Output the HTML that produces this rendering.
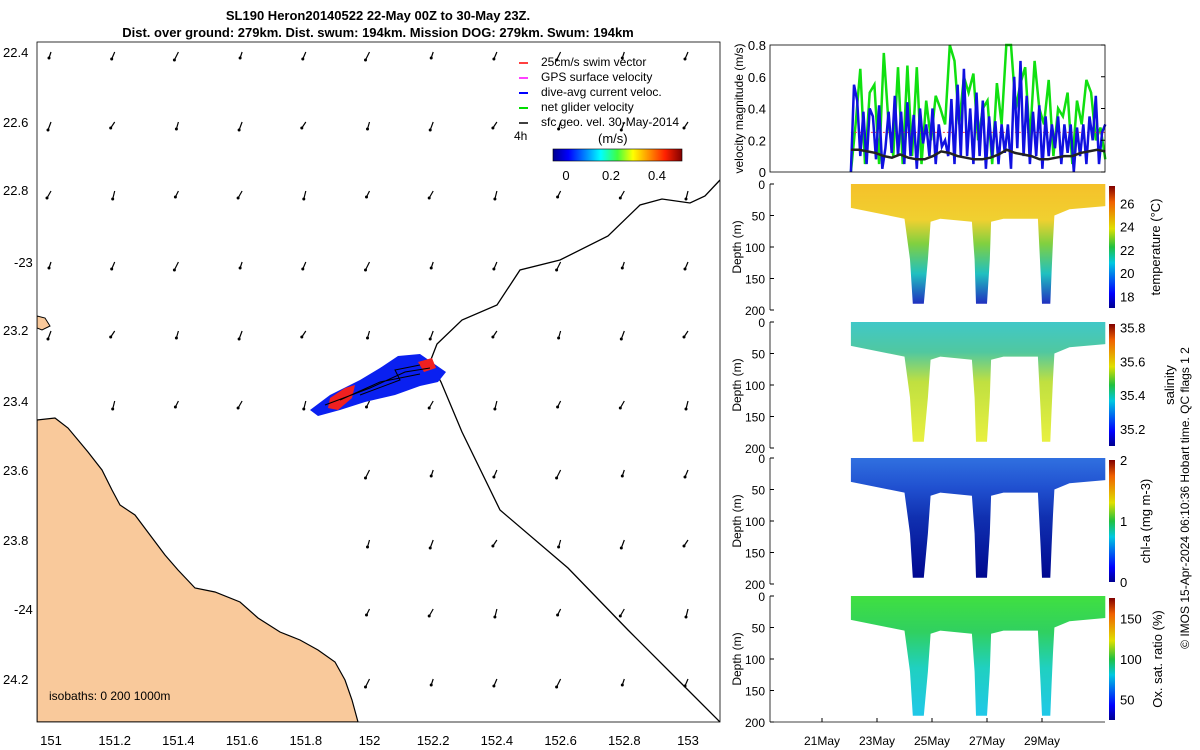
<!DOCTYPE html>
<html><head><meta charset="utf-8"><style>
body{margin:0;background:#fff}
svg{display:block;font-family:"Liberation Sans",sans-serif}
</style></head><body>
<svg id="s" width="1200" height="750" xmlns="http://www.w3.org/2000/svg">
<defs>
<linearGradient id="jet" x1="0" x2="1" y1="0" y2="0">
<stop offset="0" stop-color="#00008f"/><stop offset="0.12" stop-color="#0000ff"/><stop offset="0.37" stop-color="#00ffff"/><stop offset="0.5" stop-color="#40ff40"/><stop offset="0.62" stop-color="#ffff00"/><stop offset="0.87" stop-color="#ff2000"/><stop offset="1" stop-color="#800000"/></linearGradient>
<linearGradient id="jetv" x1="0" x2="0" y1="1" y2="0">
<stop offset="0" stop-color="#00008f"/><stop offset="0.12" stop-color="#0000ff"/><stop offset="0.37" stop-color="#00c8e0"/><stop offset="0.5" stop-color="#20c040"/><stop offset="0.65" stop-color="#e0e000"/><stop offset="0.87" stop-color="#f06000"/><stop offset="1" stop-color="#800000"/></linearGradient>
<linearGradient id="gT" x1="0" x2="0" y1="0" y2="1"><stop offset="0" stop-color="#f5c12a"/><stop offset="0.3" stop-color="#f0d030"/><stop offset="0.5" stop-color="#80d040"/><stop offset="0.75" stop-color="#20c0c0"/><stop offset="1" stop-color="#2030c0"/></linearGradient>
<linearGradient id="gS" x1="0" x2="0" y1="0" y2="1"><stop offset="0" stop-color="#40c8c8"/><stop offset="0.25" stop-color="#50c8a0"/><stop offset="0.5" stop-color="#c0e040"/><stop offset="1" stop-color="#e8f040"/></linearGradient>
<linearGradient id="gC" x1="0" x2="0" y1="0" y2="1"><stop offset="0" stop-color="#3070e0"/><stop offset="0.25" stop-color="#2050d0"/><stop offset="0.5" stop-color="#1030b0"/><stop offset="1" stop-color="#000890"/></linearGradient>
<linearGradient id="gO" x1="0" x2="0" y1="0" y2="1"><stop offset="0" stop-color="#40e040"/><stop offset="0.3" stop-color="#30d060"/><stop offset="0.6" stop-color="#20d0c0"/><stop offset="1" stop-color="#20c8e8"/></linearGradient>
<clipPath id="mapclip"><rect x="37" y="42" width="683" height="680"/></clipPath>
</defs>

<text x="378" y="20" text-anchor="middle" font-size="13" font-weight="bold">SL190 Heron20140522 22-May 00Z to 30-May 23Z.</text>
<text x="378" y="37" text-anchor="middle" font-size="13" font-weight="bold">Dist. over ground: 279km. Dist. swum: 194km. Mission DOG: 279km. Swum: 194km</text>

<g id="map">
<g clip-path="url(#mapclip)">
<path fill="#f9c99b" stroke="#000" stroke-width="1.2" d="M37,420 L55,418 L68,428 L78,440 L88,452 L102,470 L112,490 L120,505 L135,515 L150,535 L165,555 L178,570 L195,588 L215,592 L240,602 L258,618 L280,632 L300,640 L318,650 L335,662 L345,680 L352,700 L358,722 L37,722 Z"/>
<path fill="#f9c99b" stroke="#000" stroke-width="1" d="M37,316 L45,318 L50,326 L42,330 L37,328 Z"/>
<path fill="none" stroke="#000" stroke-width="1.3" d="M720,180 L705,196 L690,203 L662,199 L640,205 L608,236 L560,260 L520,270 L497,305 L462,320 L437,344 L430,362 L441,382 L462,432 L500,510 L568,568 L628,630 L680,682 L720,722"/>
<path fill="#0a20f0" d="M310,410 L330,395 L360,380 L380,368 L398,356 L420,354 L446,372 L438,382 L420,386 L395,395 L365,402 L340,410 L318,416 Z"/>
<path fill="#f02020" d="M330,398 L345,388 L355,385 L352,398 L338,410 L328,408 Z M418,362 L432,358 L436,368 L424,372 Z"/>
<path fill="none" stroke="#000" stroke-width="1" d="M325,405 L370,388 L405,372 L430,368 M340,400 L380,382 L420,374 M360,395 L400,380 L395,370 L420,365"/>
<g id="arrows"></g>
</g>
<rect x="37" y="42" width="683" height="680" fill="none" stroke="#000" stroke-width="0.8"/>
<g font-size="13">
<text x="3" y="57">22.4</text><text x="3" y="127">22.6</text><text x="3" y="195">22.8</text><text x="14" y="267">-23</text><text x="3" y="335">23.2</text><text x="3" y="406">23.4</text><text x="3" y="475">23.6</text><text x="3" y="545">23.8</text><text x="14" y="614">-24</text><text x="3" y="684">24.2</text>
</g>
<text x="49" y="700" font-size="12">isobaths: 0   200  1000m</text>
<g font-size="12">
<line x1="519" y1="63" x2="528" y2="63" stroke="#f00" stroke-width="1.5"/><text x="541" y="66">25cm/s swim vector</text>
<line x1="519" y1="78" x2="528" y2="78" stroke="#f0f" stroke-width="1.5"/><text x="541" y="81">GPS surface velocity</text>
<line x1="519" y1="93" x2="528" y2="93" stroke="#00f" stroke-width="2"/><text x="541" y="96">dive-avg current veloc.</text>
<line x1="519" y1="108" x2="528" y2="108" stroke="#0d0" stroke-width="2"/><text x="541" y="111">net glider velocity</text>
<line x1="519" y1="123" x2="528" y2="123" stroke="#000" stroke-width="1.5"/><text x="541" y="126">sfc geo. vel. 30-May-2014</text>
<text x="514" y="140">4h</text>
<text x="598" y="143" font-size="13">(m/s)</text>
</g>
<rect x="553" y="149" width="129" height="12" fill="url(#jet)" stroke="#000" stroke-width="0.6"/>
<g font-size="13" text-anchor="middle"><text x="566" y="180">0</text><text x="611" y="180">0.2</text><text x="657" y="180">0.4</text></g>
</g>

<g id="right"></g>
<text transform="translate(1189,498) rotate(-90)" text-anchor="middle" font-size="12">© IMOS 15-Apr-2024 06:10:36 Hobart time. QC flags 1  2</text>
</svg>
<script>
const NS="http://www.w3.org/2000/svg";
function mk(tag,attrs,parent){const e=document.createElementNS(NS,tag);for(const k in attrs)e.setAttribute(k,attrs[k]);parent.appendChild(e);return e;}
const mapXTickLabels=["151","151.2","151.4","151.6","151.8","152","152.2","152.4","152.6","152.8","153"];
const mapXTickLon=[151,151.2,151.4,151.6,151.8,152,152.2,152.4,152.6,152.8,153];
const lonX=l=>51+(l-151)*318.5;
const svg=document.getElementById('s');
const mxt=mk('g',{'font-size':13,'text-anchor':'middle'},svg);


mapXTickLon.forEach((l,i)=>{const t=mk('text',{x:lonX(l),y:745},mxt);t.textContent=mapXTickLabels[i];});

const arrowLon=[151,151.2,151.4,151.6,151.8,152,152.2,152.4,152.6,152.8,153];
const arrowRows=[52,122,191,262,331,401,470,540,609,679];
const ag=document.getElementById('arrows');
arrowRows.forEach((y,r)=>arrowLon.forEach((l,c)=>{
  const x=lonX(l);
  if(x<360&&y>420)return; if(x<100&&y>380)return;
  const dx=-2-((r+c)%3), dy=6+((r*2+c)%3);
  const g=mk('g',{},ag);
  
  
  mk('line',{x1:x,y1:y,x2:x+dx,y2:y+dy,stroke:'#000','stroke-width':1.2},g);
  mk('circle',{cx:x+dx,cy:y+dy,r:1.5,fill:'#000'},g);
}));

const R=document.getElementById('right');
const PX0=770,PX1=1105;
const dayX=d=>822+d*27.5;
const dateTickLabels=["21May","23May","25May","27May","29May"];
const dateTickDays=[0,2,4,6,8];

const velStartDay=1.05, velEndDay=10.3;
const blueVel=[0,0.55,0.45,0.1,0.38,0.05,0.4,0.35,0.08,0.42,0.02,0.15,0.38,0.12,0.48,0.1,0.38,0.05,0.44,0.1,0.36,0.02,0.4,0.18,0.3,0.1,0.4,0.05,0.3,0.16,0.2,0.1,0.46,0.05,0.55,0.1,0.65,0.1,0.4,0.05,0.5,0.1,0.45,0.02,0.35,0.1,0.32,0.05,0.3,0.12,0.3,0.02,0.6,0.15,0.7,0.1,0.48,0.05,0.38,0.1,0.42,0.02,0.35,0.1,0.3,0.15,0.35,0.05,0.3,0.12,0.3,0.0,0.28,0.1,0.3,0.05,0.35,0.2,0.48,0.05,0.25,0.3];
const greenVel=[0,0.3,0.65,0.05,0.5,0.55,0.05,0.75,0.3,0.1,0.66,0.05,0.67,0.1,0.66,0.05,0.45,0.2,0.48,0.4,0.3,0.8,0.7,0.3,0.6,0.5,0.62,0.2,0.4,0.45,0.05,0.56,0.3,0.8,0.8,0.4,0.56,0.66,0.2,0.7,0.4,0.3,0.58,0.1,0.4,0.35,0.5,0.05,0.45,0.3,0.58,0.5,0.2,0.28,0.08];
const blackVel=[0.14,0.14,0.13,0.12,0.1,0.09,0.11,0.09,0.08,0.08,0.1,0.13,0.12,0.1,0.09,0.08,0.08,0.09,0.11,0.14,0.12,0.11,0.1,0.08,0.08,0.09,0.1,0.1,0.12,0.13,0.14,0.13];
const swimSpeed=0.25;
const velTicks=[0,0.2,0.4,0.6,0.8];
const VT=45,VB=172;
const vy=v=>VB-(v/0.8)*(VB-VT);
function seriesPath(arr){return arr.map((v,i)=>(i?'L':'M')+dayX(velStartDay+i*(velEndDay-velStartDay)/(arr.length-1)).toFixed(1)+','+vy(v).toFixed(1)).join(' ');}
const vp=mk('g',{},R);


const gl=mk('path',{d:seriesPath(greenVel),fill:'none',stroke:'#10e010','stroke-width':2.5},vp);


const sl=mk('line',{x1:dayX(velStartDay),x2:PX1,y1:vy(swimSpeed),y2:vy(swimSpeed),stroke:'#f04040','stroke-width':1,'stroke-dasharray':'2,2'},vp);


const bl=mk('path',{d:seriesPath(blueVel),fill:'none',stroke:'#1010e0','stroke-width':2.5},vp);


const kl=mk('path',{d:seriesPath(blackVel),fill:'none',stroke:'#222','stroke-width':2.5},vp);


mk('rect',{x:PX0,y:VT,width:PX1-PX0,height:VB-VT,fill:'none',stroke:'#000','stroke-width':0.8},vp);
velTicks.forEach(v=>{const t=mk('text',{x:766,y:vy(v)+5,'font-size':13,'text-anchor':'end'},vp);t.textContent=v===0?'0':v.toFixed(1);
 mk('line',{x1:PX1,x2:PX1-4,y1:vy(v),y2:vy(v),stroke:'#000'},vp);});
const vyl=mk('text',{transform:`translate(743,${(VT+VB)/2}) rotate(-90)`,'text-anchor':'middle','font-size':12},vp);
vyl.textContent='velocity magnitude (m/s)';



const maskDays=[1.05,10.3,10.3,9.0,8.45,8.4,8.35,8.3,8.0,7.95,7.85,6.6,6.15,6.1,6.0,5.6,5.55,5.45,4.3,3.95,3.85,3.7,3.3,3.2,3.0,1.05];
const maskDepth=[0,0,35,40,50,90,140,190,190,140,55,55,60,120,190,190,120,60,55,60,120,190,190,120,55,38];
const panelTops=[184,322,458,596];
const PH=126;
const panels=[
 {name:'temperature',fill:'url(#gT)',label:'temperature (°C)',ticks:[18,20,22,24,26],min:17,max:27.5,tx:1160},
 {name:'salinity',fill:'url(#gS)',label:'salinity',ticks:[35.2,35.4,35.6,35.8],min:35.1,max:35.82,tx:1174},
 {name:'chlorophyll',fill:'url(#gC)',label:'chl-a (mg m-3)',ticks:[0,1,2],min:0,max:2,tx:1150},
 {name:'oxygen',fill:'url(#gO)',label:'Ox. sat. ratio (%)',ticks:[50,100,150],min:25,max:175,tx:1162}];
const depthTicks=[0,50,100,150,200];
panels.forEach((p,i)=>{
 const top=panelTops[i];const dy=d=>top+d/200*PH;
 const g=mk('g',{},R);
 
 
 const d=maskDays.map((dd,k)=>(k?'L':'M')+dayX(dd).toFixed(1)+','+dy(maskDepth[k]).toFixed(1)).join(' ')+'Z';
 const hm=mk('path',{d:d,fill:p.fill},g);
 
 
 mk('line',{x1:PX0,x2:PX0,y1:top,y2:top+PH,stroke:'#000','stroke-width':0.8},g);
 depthTicks.forEach(t=>{const tx=mk('text',{x:765,y:dy(t)+5,'font-size':12,'text-anchor':'end'},g);tx.textContent=t;
   mk('line',{x1:PX0,x2:PX0+4,y1:dy(t),y2:dy(t),stroke:'#000'},g);});
 const yl=mk('text',{transform:`translate(741,${top+PH/2}) rotate(-90)`,'text-anchor':'middle','font-size':12},g);yl.textContent='Depth (m)';
 
 
 const cb=mk('rect',{x:1109,y:top+2,width:6,height:PH-4,fill:'url(#jetv)'},g);
 
 
 const cy=v=>top+2+(PH-4)*(1-(v-p.min)/(p.max-p.min));
 p.ticks.forEach(t=>{const tx=mk('text',{x:1120,y:cy(t)+5,'font-size':13},g);tx.textContent=t;});
 const cl=mk('text',{transform:`translate(${p.tx},${top+PH/2}) rotate(-90)`,'text-anchor':'middle','font-size':13},g);cl.textContent=p.label;
 
 
});
const xa=mk('g',{'font-size':12,'text-anchor':'middle'},R);


mk('line',{x1:PX0,x2:PX1,y1:722,y2:722,stroke:'#000','stroke-width':0.8},xa);
dateTickDays.forEach((d,i)=>{const t=mk('text',{x:dayX(d),y:745},xa);t.textContent=dateTickLabels[i];
 mk('line',{x1:dayX(d),x2:dayX(d),y1:722,y2:718,stroke:'#000'},xa);});
</script>
</body></html>
